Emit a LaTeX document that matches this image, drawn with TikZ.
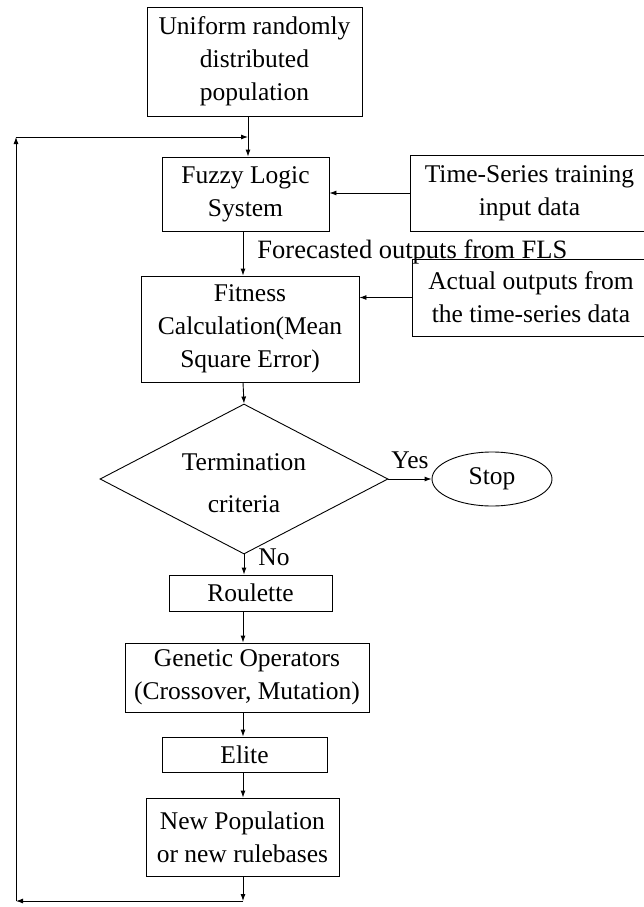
\documentclass[tikz,border=0pt]{standalone}
\usepackage{fontspec}
\setmainfont{Liberation Serif}
\usepackage{tikz}
\usetikzlibrary{arrows.meta}
\usetikzlibrary{shapes.geometric, calc}

\begin{document}
\begin{tikzpicture}[x=1pt,y=-1pt,line width=0.9pt,
    txt/.style={font=\fontsize{25.5}{33}\selectfont, align=center, inner sep=0pt},
    blk/.style={txt, draw, rectangle},
    flow/.style={-{Latex[length=7pt,width=5pt]}}]
                \useasboundingbox (0,0) rectangle (643,907);
                % Initial population
                \node[blk, minimum width=215pt, minimum height=109pt] (init) at (254.5,61.5)
                    {Uniform randomly\\distributed\\population};
                % Fuzzy logic system and its input
                \node[blk, minimum width=167pt, minimum height=74pt] (fls) at (245.5,194) {Fuzzy Logic\\System};
                \node[blk, minimum width=239pt, minimum height=76pt] (train) at (529.5,193) {Time-Series training\\input data};
                \node[txt, anchor=west, font=\fontsize{26.5}{33}\selectfont] (fcast) at (257,252) {Forecasted outputs from FLS};
                % Fitness and actual outputs
                \node[blk, minimum width=218pt, minimum height=106pt] (fit) at (250,329)
                    {Fitness\\Calculation(Mean\\Square Error)};
                \node[blk, minimum width=238pt, minimum height=77pt] (actual) at (531,297.5)
                    {Actual outputs from\\the time-series data};
                % Termination test
                \node[txt, draw, diamond, aspect=2, minimum width=288pt, minimum height=150pt] (term) at (244,479)
                    {\mbox{}\\[-8pt]Termination\\[9pt]criteria};
                \node[txt, draw, ellipse, minimum width=120pt, minimum height=54pt] (stop) at (492,479) {Stop};
                \node[txt] (yes) at (410,460) {Yes};
                \node[txt] (no) at (274,557) {No};
                % Genetic algorithm steps
                \node[blk, minimum width=163pt, minimum height=36pt] (roul) at (250.5,593) {Roulette};
                \node[blk, minimum width=244pt, minimum height=69pt] (genop) at (247,677.5)
                    {Genetic Operators\\(Crossover, Mutation)};
                \node[blk, minimum width=165pt, minimum height=35pt] (elite) at (244.5,754.5) {Elite};
                \node[blk, minimum width=193pt, minimum height=78pt] (newpop) at (242.5,837)
                    {New Population\\or new rulebases};
                % Loop corners
                \coordinate (spine) at (243,0);
                \coordinate (br) at (243,901);
                \coordinate (bl) at (16,901);
                \coordinate (tl) at (16,137);
                \coordinate (tr) at (248,137);
                % Arrows
                \draw[flow] (init.south -| tr) -- (fls.north -| tr);
                \draw[flow] (train.west) -- (fls.east |- train.west);
                \draw[flow] (fls.south -| spine) -- (fit.north -| spine);
                \draw[flow] (actual.west) -- (fit.east |- actual.west);
                \draw[flow] (fit.south -| spine) -- (term.north);
                \draw[flow] (term.east) -- (stop.west);
                \draw[flow] (term.south) -- (roul.north -| term.south);
                \draw[flow] (roul.south -| spine) -- (genop.north -| spine);
                \draw[flow] (genop.south -| spine) -- (elite.north -| spine);
                \draw[flow] (elite.south -| spine) -- (newpop.north -| spine);
                \draw[flow] (newpop.south -| br) -- (br);
                \draw[flow] (br) -- (bl);
                \draw[flow] (bl) -- (tl);
                \draw[flow] (tl) -- (tr);
            \end{tikzpicture}
\end{document}
